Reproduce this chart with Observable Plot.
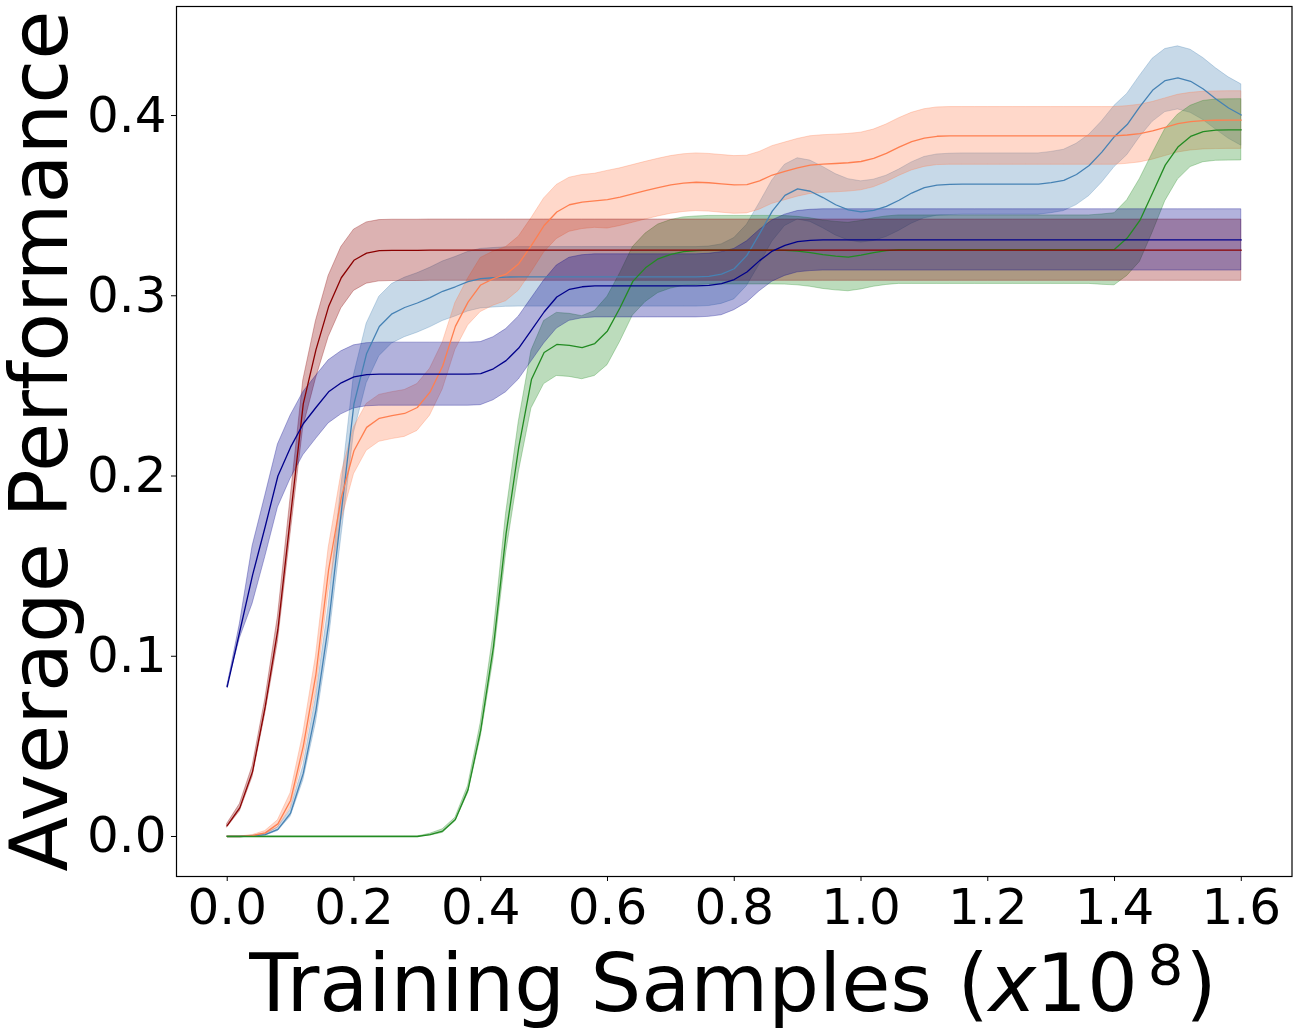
<!DOCTYPE html>
<html>
<head>
<meta charset="utf-8">
<script src="https://cdn.jsdelivr.net/npm/d3@7"></script>
<script src="https://cdn.jsdelivr.net/npm/@observablehq/plot@0.6"></script>
<style>
  html, body { margin: 0; padding: 0; background: white; }
  #chart svg { display: block; }
</style>
</head>
<body>
<div id="chart"></div>
<script>
// Training samples (x1e8)
const steps = [
  0.00,0.02,0.04,0.06,0.08,0.10,0.12,0.14,0.16,0.18,
  0.20,0.22,0.24,0.26,0.28,0.30,0.32,0.34,0.36,0.38,
  0.40,0.42,0.44,0.46,0.48,0.50,0.52,0.54,0.56,0.58,
  0.60,0.62,0.64,0.66,0.68,0.70,0.72,0.74,0.76,0.78,
  0.80,0.82,0.84,0.86,0.88,0.90,0.92,0.94,0.96,0.98,
  1.00,1.02,1.04,1.06,1.08,1.10,1.12,1.14,1.16,1.18,
  1.20,1.22,1.24,1.26,1.28,1.30,1.32,1.34,1.36,1.38,
  1.40,1.42,1.44,1.46,1.48,1.50,1.52,1.54,1.56,1.58,
  1.60
];

const redMean = [
  0.006,0.016,0.036,0.072,0.115,0.178,0.240,0.270,0.294,0.310,
  0.3197,0.3237,0.325,0.3252,0.3252,0.3252,0.3253,0.3253,0.3253,0.3253,
  0.3253,0.3253,0.3253,0.3253,0.3253,0.3253,0.3253,0.3253,0.3253,0.3253,
  0.3253,0.3253,0.3253,0.3253,0.3253,0.3253,0.3253,0.3253,0.3253,0.3253,
  0.3253,0.3253,0.3253,0.3253,0.3253,0.3253,0.3253,0.3253,0.3253,0.3253,
  0.3253,0.3253,0.3253,0.3253,0.3253,0.3253,0.3253,0.3253,0.3253,0.3253,
  0.3253,0.3253,0.3253,0.3253,0.3253,0.3253,0.3253,0.3253,0.3253,0.3253,
  0.3253,0.3253,0.3253,0.3253,0.3253,0.3253,0.3253,0.3253,0.3253,0.3253,
  0.3253
];
const redSpread = [
  0.001,0.002,0.003,0.004,0.007,0.010,0.013,0.016,0.017,0.017,
  0.017,0.017,0.017,0.017,0.017,0.017,0.017,0.017,0.017,0.017,
  0.017,0.017,0.017,0.017,0.017,0.017,0.017,0.017,0.017,0.017,
  0.017,0.017,0.017,0.017,0.017,0.017,0.017,0.017,0.017,0.017,
  0.017,0.017,0.017,0.017,0.017,0.017,0.017,0.017,0.017,0.017,
  0.017,0.017,0.017,0.017,0.017,0.017,0.017,0.017,0.017,0.017,
  0.017,0.017,0.017,0.017,0.017,0.017,0.017,0.017,0.017,0.017,
  0.017,0.017,0.017,0.017,0.017,0.017,0.017,0.017,0.017,0.017,
  0.017
];

const navyMean = [
  0.083,0.114,0.145,0.172,0.200,0.216,0.229,0.238,0.2467,0.2517,
  0.255,0.2562,0.2565,0.2565,0.2565,0.2565,0.2565,0.2565,0.2565,0.2565,
  0.2568,0.2595,0.264,0.271,0.281,0.291,0.2993,0.3036,0.305,0.3055,
  0.3055,0.3055,0.3055,0.3055,0.3055,0.3055,0.3055,0.3055,0.3058,0.3067,
  0.309,0.3132,0.3195,0.3248,0.328,0.330,0.3307,0.331,0.331,0.331,
  0.331,0.331,0.331,0.331,0.331,0.331,0.331,0.331,0.331,0.331,
  0.331,0.331,0.331,0.331,0.331,0.331,0.331,0.331,0.331,0.331,
  0.331,0.331,0.331,0.331,0.331,0.331,0.331,0.331,0.331,0.331,
  0.331
];
const navySpread = [
  0,0.004,0.016,0.017,0.0175,0.0175,0.0175,0.0175,0.0175,0.0175,
  0.0175,0.0175,0.0175,0.0175,0.0175,0.0175,0.0175,0.0175,0.0175,0.0175,
  0.0175,0.0175,0.0175,0.0175,0.0175,0.0175,0.0175,0.0175,0.0175,0.0175,
  0.0175,0.0175,0.0175,0.0175,0.0175,0.0175,0.0175,0.0175,0.0175,0.0175,
  0.017,0.017,0.017,0.017,0.017,0.017,0.017,0.017,0.017,0.017,
  0.017,0.017,0.017,0.017,0.017,0.017,0.017,0.017,0.017,0.017,
  0.017,0.017,0.017,0.017,0.017,0.017,0.017,0.017,0.017,0.017,
  0.017,0.017,0.017,0.017,0.017,0.017,0.017,0.017,0.017,0.017,
  0.017
];

const blueMean = [
  0,0,0.0003,0.001,0.004,0.013,0.035,0.070,0.118,0.180,
  0.240,0.268,0.283,0.290,0.2935,0.296,0.299,0.3025,0.305,0.3078,
  0.3095,0.310,0.3104,0.3105,0.3105,0.3105,0.3105,0.3105,0.3105,0.3105,
  0.3105,0.3105,0.3105,0.3105,0.3105,0.3105,0.3105,0.3105,0.3108,0.312,
  0.315,0.3224,0.3344,0.347,0.3557,0.3593,0.358,0.3545,0.3505,0.3477,
  0.3465,0.3474,0.3496,0.353,0.357,0.360,0.3614,0.3618,0.362,0.362,
  0.362,0.362,0.362,0.362,0.362,0.3628,0.364,0.3673,0.3723,0.3797,
  0.3884,0.395,0.405,0.414,0.4194,0.4209,0.419,0.4147,0.4092,0.4042,
  0.4003
];
const blueSpread = [
  0,0,0.0002,0.0005,0.001,0.002,0.004,0.007,0.010,0.014,
  0.016,0.0165,0.0165,0.0165,0.0165,0.0165,0.0165,0.0165,0.0165,0.0165,
  0.0165,0.0165,0.0165,0.0165,0.0165,0.0165,0.0165,0.0165,0.0165,0.0165,
  0.0165,0.0165,0.0165,0.0165,0.0165,0.0165,0.0165,0.0165,0.0165,0.0165,
  0.017,0.017,0.017,0.017,0.017,0.017,0.017,0.017,0.017,0.017,
  0.017,0.017,0.017,0.017,0.017,0.017,0.017,0.017,0.017,0.017,
  0.017,0.017,0.017,0.017,0.017,0.017,0.017,0.017,0.017,0.017,
  0.017,0.017,0.017,0.0175,0.0175,0.0175,0.0175,0.0172,0.017,0.017,
  0.017
];

const coralMean = [
  0,0,0.0005,0.002,0.007,0.020,0.050,0.090,0.148,0.188,
  0.214,0.227,0.232,0.2335,0.2347,0.238,0.2465,0.261,0.283,0.2965,
  0.306,0.3095,0.312,0.3178,0.328,0.339,0.3465,0.3505,0.352,0.3527,
  0.3533,0.3547,0.3565,0.3583,0.360,0.3615,0.3625,0.363,0.3627,0.3621,
  0.3615,0.3617,0.3638,0.367,0.369,0.371,0.3725,0.3731,0.3734,0.3738,
  0.3745,0.3762,0.379,0.3825,0.3855,0.3875,0.3885,0.3887,0.3887,0.3887,
  0.3887,0.3887,0.3887,0.3887,0.3887,0.3887,0.3887,0.3887,0.3887,0.3887,
  0.3887,0.3892,0.390,0.3915,0.3935,0.3955,0.3966,0.3972,0.3974,0.3975,
  0.3975
];
const coralSpread = [
  0,0,0.0003,0.001,0.002,0.004,0.007,0.010,0.012,0.013,
  0.013,0.013,0.013,0.013,0.013,0.013,0.013,0.013,0.013,0.013,
  0.015,0.015,0.015,0.015,0.015,0.015,0.015,0.015,0.015,0.015,
  0.016,0.016,0.016,0.016,0.016,0.016,0.016,0.016,0.016,0.016,
  0.016,0.016,0.016,0.016,0.016,0.016,0.016,0.016,0.016,0.016,
  0.016,0.016,0.016,0.016,0.016,0.016,0.016,0.016,0.016,0.016,
  0.016,0.016,0.016,0.016,0.016,0.016,0.016,0.016,0.016,0.016,
  0.016,0.016,0.016,0.016,0.016,0.016,0.016,0.016,0.016,0.016,
  0.016
];

const greenMean = [
  0,0,0,0,0,0,0,0,0,0,
  0,0,0,0,0,0,0.001,0.003,0.0094,0.026,
  0.059,0.105,0.168,0.216,0.2535,0.2685,0.273,0.2725,0.2712,0.2735,
  0.2805,0.2935,0.308,0.3155,0.3205,0.323,0.3245,0.325,0.3253,0.3253,
  0.3253,0.3253,0.3253,0.3253,0.3252,0.3248,0.324,0.3228,0.322,0.3215,
  0.3225,0.324,0.325,0.3256,0.3256,0.3256,0.3256,0.3256,0.3256,0.3256,
  0.3256,0.3256,0.3256,0.3256,0.3256,0.3256,0.3256,0.3256,0.3256,0.3256,
  0.3258,0.332,0.3418,0.357,0.3725,0.3825,0.3884,0.3911,0.3919,0.392,
  0.3921
];
const greenSpread = [
  0,0,0,0,0,0,0,0,0,0,
  0,0,0,0,0,0,0.0005,0.001,0.001,0.002,
  0.004,0.007,0.011,0.014,0.016,0.0175,0.0175,0.0175,0.0175,0.018,
  0.019,0.019,0.019,0.019,0.019,0.019,0.019,0.019,0.019,0.019,
  0.019,0.019,0.019,0.019,0.019,0.019,0.019,0.019,0.019,0.019,
  0.019,0.019,0.019,0.019,0.019,0.019,0.019,0.019,0.019,0.019,
  0.019,0.019,0.019,0.019,0.019,0.019,0.019,0.019,0.019,0.0195,
  0.02,0.021,0.023,0.022,0.02,0.018,0.017,0.017,0.017,0.017,
  0.017
];

const seriesNames = ["steelblue", "coral", "forestgreen", "darkred", "darkblue"];
const seriesColors = ["#4682b4", "#ff7f50", "#228b22", "#8b0000", "#00008b"];
const seriesMeans = [blueMean, coralMean, greenMean, redMean, navyMean];
const seriesSpreads = [blueSpread, coralSpread, greenSpread, redSpread, navySpread];

const xTicks = [0.0, 0.2, 0.4, 0.6, 0.8, 1.0, 1.2, 1.4, 1.6];
const xTickLabels = ["0.0", "0.2", "0.4", "0.6", "0.8", "1.0", "1.2", "1.4", "1.6"];
const yTicks = [0.0, 0.1, 0.2, 0.3, 0.4];
const yTickLabels = ["0.0", "0.1", "0.2", "0.3", "0.4"];

const rows = [];
seriesNames.forEach((name, k) => {
  seriesMeans[k].forEach((m, i) => {
    const s = seriesSpreads[k][i];
    rows.push({name, t: steps[i], m, lo: m - s, hi: m + s});
  });
});

const bandMarks = seriesNames.map((name, k) =>
  Plot.areaY(rows.filter(r => r.name === name), {
    x: "t", y1: "lo", y2: "hi",
    fill: seriesColors[k], fillOpacity: 0.3,
    stroke: seriesColors[k], strokeOpacity: 0.3, strokeWidth: 1
  })
);
const lineMarks = seriesNames.map((name, k) =>
  Plot.lineY(rows.filter(r => r.name === name), {
    x: "t", y: "m", stroke: seriesColors[k], strokeWidth: 1.3
  })
);

const chart = Plot.plot({
  width: 1298,
  height: 1036,
  marginLeft: 176,
  marginRight: 6.5,
  marginTop: 6,
  marginBottom: 160,
  style: {fontFamily: "DejaVu Sans", fontSize: "50px", color: "black", background: "white"},
  x: {domain: [-0.08, 1.68]},
  y: {domain: [-0.0222, 0.4605]},
  marks: [
    ...bandMarks,
    ...lineMarks,
    Plot.axisX({ticks: xTicks, tickFormat: d => xTickLabels[xTicks.indexOf(d)], tickSize: 5, tickPadding: 7, fontSize: 50, label: null}),
    Plot.axisY({ticks: yTicks, tickFormat: d => yTickLabels[yTicks.indexOf(d)], tickSize: 5, tickPadding: 5, fontSize: 50, label: null}),
    Plot.frame({stroke: "black", strokeWidth: 1.2})
  ]
});

document.getElementById("chart").appendChild(chart);

const svg = d3.select(chart);
// x-axis label
const xl = svg.append("text")
  .attr("x", 733)
  .attr("y", 1011)
  .attr("text-anchor", "middle")
  .attr("font-family", "DejaVu Sans")
  .attr("font-size", 80)
  .attr("fill", "black");
xl.append("tspan").text("Training Samples (");
xl.append("tspan").attr("font-style", "italic").text("x");
xl.append("tspan").text("10");
xl.append("tspan").attr("font-size", 56).attr("dx", 10).attr("dy", -27).text("8");
xl.append("tspan").attr("font-size", 80).attr("dx", 2).attr("dy", 27).text(")");

// y-axis label
svg.append("text")
  .attr("transform", "translate(67,441) rotate(-90)")
  .attr("text-anchor", "middle")
  .attr("font-family", "DejaVu Sans")
  .attr("font-size", 80)
  .attr("fill", "black")
  .text("Average Performance");
</script>
</body>
</html>
